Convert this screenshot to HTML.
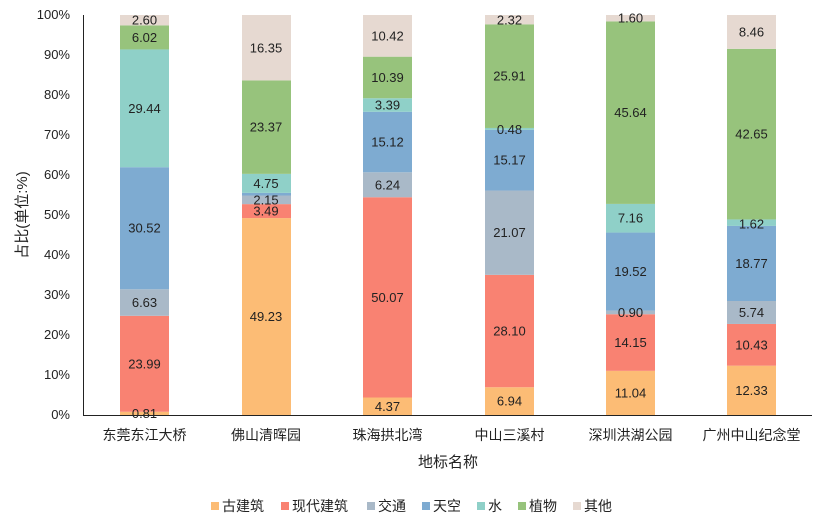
<!DOCTYPE html>
<html><head><meta charset="utf-8"><style>
body{margin:0;background:#fff}
svg text{font-family:"Liberation Sans","Noto Sans CJK SC",sans-serif;fill:#222}
</style></head><body>
<svg width="817" height="523" viewBox="0 0 817 523" xmlns="http://www.w3.org/2000/svg">
<g font-size="13" text-anchor="end" fill="#333">
<text x="70" y="419">0%</text><text x="70" y="379">10%</text><text x="70" y="339">20%</text><text x="70" y="299">30%</text><text x="70" y="259">40%</text><text x="70" y="219">50%</text><text x="70" y="179">60%</text><text x="70" y="139">70%</text><text x="70" y="99">80%</text><text x="70" y="59">90%</text><text x="70" y="19">100%</text>
</g>
<text transform="translate(27,215) rotate(-90)" font-size="15" text-anchor="middle">占比(单位:%)</text>
<g>
<rect x="120" y="411.76" width="49" height="3.24" fill="#fcbc75"/>
<rect x="120" y="315.8" width="49" height="95.96" fill="#f98272"/>
<rect x="120" y="289.28" width="49" height="26.52" fill="#a9b9c8"/>
<rect x="120" y="167.2" width="49" height="122.08" fill="#7eabd1"/>
<rect x="120" y="49.44" width="49" height="117.76" fill="#8fd0c8"/>
<rect x="120" y="25.36" width="49" height="24.08" fill="#97c37c"/>
<rect x="120" y="15" width="49" height="10.36" fill="#e6d9d1"/>

<rect x="242" y="218.08" width="49" height="196.92" fill="#fcbc75"/>
<rect x="242" y="204.12" width="49" height="13.96" fill="#f98272"/>
<rect x="242" y="195.52" width="49" height="8.6" fill="#a9b9c8"/>
<rect x="242" y="192.88" width="49" height="2.64" fill="#7eabd1"/>
<rect x="242" y="173.88" width="49" height="19" fill="#8fd0c8"/>
<rect x="242" y="80.4" width="49" height="93.48" fill="#97c37c"/>
<rect x="242" y="15" width="49" height="65.4" fill="#e6d9d1"/>

<rect x="363" y="397.52" width="49" height="17.48" fill="#fcbc75"/>
<rect x="363" y="197.24" width="49" height="200.28" fill="#f98272"/>
<rect x="363" y="172.28" width="49" height="24.96" fill="#a9b9c8"/>
<rect x="363" y="111.8" width="49" height="60.48" fill="#7eabd1"/>
<rect x="363" y="98.24" width="49" height="13.56" fill="#8fd0c8"/>
<rect x="363" y="56.68" width="49" height="41.56" fill="#97c37c"/>
<rect x="363" y="15" width="49" height="41.68" fill="#e6d9d1"/>

<rect x="485" y="387.24" width="49" height="27.76" fill="#fcbc75"/>
<rect x="485" y="274.84" width="49" height="112.4" fill="#f98272"/>
<rect x="485" y="190.56" width="49" height="84.28" fill="#a9b9c8"/>
<rect x="485" y="129.88" width="49" height="60.68" fill="#7eabd1"/>
<rect x="485" y="127.96" width="49" height="1.92" fill="#8fd0c8"/>
<rect x="485" y="24.32" width="49" height="103.64" fill="#97c37c"/>
<rect x="485" y="15" width="49" height="9.32" fill="#e6d9d1"/>

<rect x="606" y="370.84" width="49" height="44.16" fill="#fcbc75"/>
<rect x="606" y="314.24" width="49" height="56.6" fill="#f98272"/>
<rect x="606" y="310.64" width="49" height="3.6" fill="#a9b9c8"/>
<rect x="606" y="232.56" width="49" height="78.08" fill="#7eabd1"/>
<rect x="606" y="203.92" width="49" height="28.64" fill="#8fd0c8"/>
<rect x="606" y="21.36" width="49" height="182.56" fill="#97c37c"/>
<rect x="606" y="15" width="49" height="6.36" fill="#e6d9d1"/>

<rect x="727" y="365.68" width="49" height="49.32" fill="#fcbc75"/>
<rect x="727" y="323.96" width="49" height="41.72" fill="#f98272"/>
<rect x="727" y="301" width="49" height="22.96" fill="#a9b9c8"/>
<rect x="727" y="225.92" width="49" height="75.08" fill="#7eabd1"/>
<rect x="727" y="219.44" width="49" height="6.48" fill="#8fd0c8"/>
<rect x="727" y="48.84" width="49" height="170.6" fill="#97c37c"/>
<rect x="727" y="15" width="49" height="33.84" fill="#e6d9d1"/>
</g>
<g font-size="13" text-anchor="middle" dominant-baseline="central">
<text x="144.5" y="413.6">0.81</text><text x="144.5" y="363.8">23.99</text><text x="144.5" y="302.5">6.63</text><text x="144.5" y="228.2">30.52</text><text x="144.5" y="108.3">29.44</text><text x="144.5" y="37.4">6.02</text><text x="144.5" y="20.2">2.60</text>
<text x="266" y="316.5">49.23</text><text x="266" y="211.1">3.49</text><text x="266" y="199.8">2.15</text><text x="266" y="183.4">4.75</text><text x="266" y="127.1">23.37</text><text x="266" y="47.8">16.35</text>
<text x="387.5" y="406.3">4.37</text><text x="387.5" y="297.4">50.07</text><text x="387.5" y="184.8">6.24</text><text x="387.5" y="142">15.12</text><text x="387.5" y="105">3.39</text><text x="387.5" y="77.5">10.39</text><text x="387.5" y="35.8">10.42</text>
<text x="509.5" y="401.1">6.94</text><text x="509.5" y="331">28.10</text><text x="509.5" y="232.7">21.07</text><text x="509.5" y="160.2">15.17</text><text x="509.5" y="129.5">0.48</text><text x="509.5" y="76.1">25.91</text><text x="509.5" y="19.8">2.32</text>
<text x="630.5" y="392.9">11.04</text><text x="630.5" y="342.5">14.15</text><text x="630.5" y="312.4">0.90</text><text x="630.5" y="271.6">19.52</text><text x="630.5" y="218.2">7.16</text><text x="630.5" y="112.6">45.64</text><text x="630.5" y="18.2">1.60</text>
<text x="751.5" y="390.3">12.33</text><text x="751.5" y="344.8">10.43</text><text x="751.5" y="312.5">5.74</text><text x="751.5" y="263.5">18.77</text><text x="751.5" y="224">1.62</text><text x="751.5" y="134.1">42.65</text><text x="751.5" y="31.9">8.46</text>
</g>
<line x1="83.5" y1="15" x2="83.5" y2="415" stroke="#222" stroke-width="1"/>
<line x1="83" y1="415.5" x2="812" y2="415.5" stroke="#222" stroke-width="1"/>
<g font-size="14" text-anchor="middle">
<text x="144.5" y="440">东莞东江大桥</text><text x="266" y="440">佛山清晖园</text><text x="387.5" y="440">珠海拱北湾</text><text x="509.5" y="440">中山三溪村</text><text x="630.5" y="440">深圳洪湖公园</text><text x="751.5" y="440">广州中山纪念堂</text>
</g>
<text x="448" y="467" font-size="15" text-anchor="middle">地标名称</text>
<g font-size="14">
<rect x="211" y="502" width="8" height="8" fill="#fcbc75"/><text x="222" y="511">古建筑</text>
<rect x="281" y="502" width="8" height="8" fill="#f98272"/><text x="292" y="511">现代建筑</text>
<rect x="367" y="502" width="8" height="8" fill="#a9b9c8"/><text x="378" y="511">交通</text>
<rect x="422" y="502" width="8" height="8" fill="#7eabd1"/><text x="433" y="511">天空</text>
<rect x="477" y="502" width="8" height="8" fill="#8fd0c8"/><text x="488" y="511">水</text>
<rect x="518" y="502" width="8" height="8" fill="#97c37c"/><text x="529" y="511">植物</text>
<rect x="573" y="502" width="8" height="8" fill="#e6d9d1"/><text x="584" y="511">其他</text>
</g>
</svg>
</body></html>
